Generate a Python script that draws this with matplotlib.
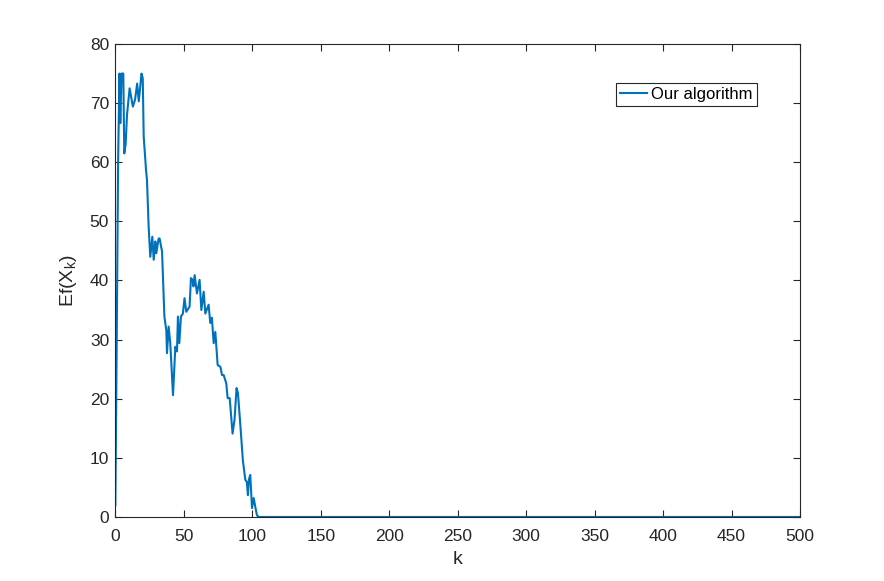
import matplotlib

matplotlib.use("Agg")

import matplotlib.pyplot as plt

plt.rcParams["font.family"] = ["Liberation Sans", "DejaVu Sans"]
plt.rcParams["mathtext.fontset"] = "custom"
plt.rcParams["mathtext.rm"] = "Liberation Sans"

BLUE = "#0072BD"
AXIS = "#262626"

# values
k = [0, 1, 2, 3, 3.6, 4.5, 5.8, 6.5, 7.5, 8.5, 10.4, 12.8, 14.4, 15.9, 17.1,
     19.1, 20, 20.7, 22.4, 23.1, 24.3, 25.5, 27, 28, 29.2, 29.9, 31.6, 32.3,
     34.1, 35.8, 37.2, 37.7, 38.9, 40.1, 42.1, 43.8, 45, 45.7, 46.7, 47.9,
     49.3, 50.5, 51.8, 54.2, 55.2, 56.4, 57, 57.9, 59.6, 61.5, 62.8, 64.5,
     65.7, 68.1, 69.3, 70.5, 71.8, 73, 74.7, 76.7, 77.9, 79.1, 81, 82, 83.5,
     84.4, 85.6, 87, 88.5, 89.5, 91.2, 93.1, 94.9, 96, 96.8, 97.5, 98.5,
     99.8, 101, 102.2, 103.4, 104.6, 150, 300, 500]
ef = [2, 30, 60, 75, 66.6, 75, 75, 61.5, 63, 68, 72.5, 69.4, 70.6, 73.3,
      70.3, 75, 74.2, 64.3, 58.7, 57, 49.1, 44, 47.4, 43.5, 46.6, 44.6, 47.1,
      47.1, 44.9, 33.9, 31.6, 27.7, 32.2, 29.4, 20.6, 28.8, 28, 33.9, 29.4,
      33.9, 34.4, 37, 34.7, 35.6, 40.4, 40.1, 39, 40.9, 37.8, 40.1, 35, 38.1,
      34.4, 35.9, 32.8, 33.7, 29.4, 31.3, 25.7, 25.4, 24, 24, 22.6, 20.1,
      20.1, 17.5, 14.1, 16.4, 21.8, 21, 15.8, 9.6, 6.3, 5.9, 3.7, 6.3, 7.1,
      1.5, 3.2, 1.7, 0.3, 0, 0, 0, 0]

fig = plt.figure(figsize=(8.84, 5.81), dpi=100, facecolor="white")
ax = fig.add_axes([0.1305, 0.1102, 0.7745, 0.8141])

ax.plot(k, ef, color=BLUE, linewidth=1.5, label="Our algorithm")

ax.set_xlim(0, 500)
ax.set_ylim(0, 80)
ax.set_xticks(range(0, 501, 50))
ax.set_yticks(range(0, 81, 10))
ax.tick_params(direction="in", length=5, width=0.8, colors=AXIS, labelsize=12.5,
               top=True, right=True, labeltop=False, labelright=False)
ax.tick_params(axis="x", pad=8.5)
ax.tick_params(axis="y", pad=4.5)
for side in ax.spines.values():
    side.set_color(AXIS)
    side.set_linewidth(0.8)

ax.set_xlabel("k", fontsize=14, color=AXIS, labelpad=5)
ax.set_ylabel("Ef(X$_\\mathregular{k}$)", fontsize=14, color=AXIS, labelpad=8)

leg = ax.legend(loc="upper right", bbox_to_anchor=(0.937, 0.9175), borderaxespad=0,
                fontsize=12, handlelength=1.6, handletextpad=0.27, borderpad=0.25,
                fancybox=False, framealpha=1, edgecolor=AXIS)
leg.get_frame().set_linewidth(0.8)

fig.savefig("out.png", dpi=100, facecolor="white")
